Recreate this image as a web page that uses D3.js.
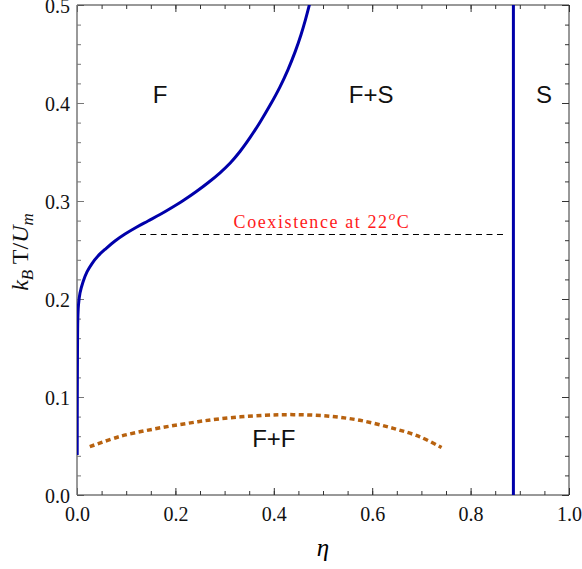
<!DOCTYPE html>
<html>
<head>
<meta charset="utf-8">
<script src="https://cdn.jsdelivr.net/npm/d3@7"></script>
<style>
  body { margin: 0; background: #fff; }
  svg { display: block; }
</style>
</head>
<body>
<script>
// Phase boundary data (eta, kT/Um)
const fluidSolidEta = [0.0004, 0.0006, 0.0010, 0.0016, 0.0030, 0.0061, 0.0122, 0.0203, 0.0305, 0.0427, 0.0589, 0.0772, 0.0976, 0.1199, 0.1443, 0.1687, 0.1931, 0.2175, 0.2419, 0.2663, 0.2907, 0.3110, 0.3313, 0.3516, 0.3720, 0.3923, 0.4126, 0.4289, 0.4431, 0.4553, 0.4644, 0.4715, 0.4776, 0.4817];
const fluidSolidT   = [0.0408, 0.0969, 0.1480, 0.1786, 0.1939, 0.2061, 0.2173, 0.2276, 0.2362, 0.2439, 0.2515, 0.2592, 0.2663, 0.2730, 0.2796, 0.2862, 0.2934, 0.3010, 0.3094, 0.3186, 0.3288, 0.3385, 0.3505, 0.3646, 0.3804, 0.3976, 0.4165, 0.4341, 0.4519, 0.4697, 0.4851, 0.4985, 0.5110, 0.5198];

const fluidFluidEta = [0.026, 0.087, 0.155, 0.223, 0.291, 0.379, 0.440, 0.508, 0.575, 0.643, 0.697, 0.741];
const fluidFluidT   = [0.0493, 0.0597, 0.0672, 0.0730, 0.0778, 0.0813, 0.0820, 0.0806, 0.0762, 0.0680, 0.0594, 0.0484];

const solidEta = 0.887;
const coexistT = 0.2663;
const coexistEta = [0.128, 0.870];

const xTicks = [0, 0.2, 0.4, 0.6, 0.8, 1.0];
const yTicks = [0, 0.1, 0.2, 0.3, 0.4, 0.5];
const xMinor = d3.range(0, 1.0001, 0.05);
const yMinor = d3.range(0, 0.5001, 0.02);

const regionLabels = [
  { text: 'F',   eta: 0.169, t: 0.40 },
  { text: 'F+S', eta: 0.598, t: 0.40 },
  { text: 'S',   eta: 0.949, t: 0.40 },
  { text: 'F+F', eta: 0.400, t: 0.049 }
];

const W = 582, H = 569;
const margin = { top: 5, right: 13, bottom: 74, left: 77 };
const width = W - margin.left - margin.right;
const height = H - margin.top - margin.bottom;

const svg = d3.select('body').append('svg')
  .attr('width', W)
  .attr('height', H);

const g = svg.append('g')
  .attr('transform', `translate(${margin.left},${margin.top})`);

const x = d3.scaleLinear().domain([0, 1]).range([0, width]);
const y = d3.scaleLinear().domain([0, 0.5]).range([height, 0]);

// clip to the frame
svg.append('defs').append('clipPath').attr('id', 'plot')
  .append('rect').attr('width', width).attr('height', height);

const serif = '"Liberation Serif", "Times New Roman", serif';

// axes: ticks pointing inwards, Mathematica frame style
function styleAxis(sel, col) {
  sel.select('.domain').remove();
  sel.selectAll('line').attr('stroke', col).attr('stroke-width', 1);
  sel.selectAll('text').attr('font-family', serif).attr('font-size', 20).attr('fill', '#111');
}

const fmt = d3.format('.1f');

g.append('g').attr('transform', `translate(0,${height})`)
  .call(d3.axisBottom(x).tickValues(xMinor).tickSize(-4).tickFormat(''))
  .call(s => styleAxis(s, '#333'));
g.append('g').attr('transform', `translate(0,${height})`)
  .call(d3.axisBottom(x).tickValues(xTicks).tickSize(-7).tickPadding(20).tickFormat(fmt))
  .call(s => styleAxis(s, '#333'))
  .call(s => s.selectAll('text').attr('dy', '0.3em'));

g.append('g')
  .call(d3.axisTop(x).tickValues(xMinor).tickSize(-4).tickFormat(''))
  .call(s => styleAxis(s, '#333'));
g.append('g')
  .call(d3.axisTop(x).tickValues(xTicks).tickSize(-7).tickFormat(''))
  .call(s => styleAxis(s, '#333'));

g.append('g')
  .call(d3.axisLeft(y).tickValues(yMinor).tickSize(-4).tickFormat(''))
  .call(s => styleAxis(s, '#777'));
g.append('g')
  .call(d3.axisLeft(y).tickValues(yTicks).tickSize(-7).tickPadding(7).tickFormat(fmt))
  .call(s => styleAxis(s, '#777'))
  .call(s => s.selectAll('text').attr('dy', '0.35em'));

g.append('g').attr('transform', `translate(${width},0)`)
  .call(d3.axisRight(y).tickValues(yMinor).tickSize(-4).tickFormat(''))
  .call(s => styleAxis(s, '#333'));
g.append('g').attr('transform', `translate(${width},0)`)
  .call(d3.axisRight(y).tickValues(yTicks).tickSize(-7).tickFormat(''))
  .call(s => styleAxis(s, '#333'));

// frame
g.append('line').attr('x1', 0).attr('x2', width).attr('y1', height).attr('y2', height).attr('stroke', '#333');
g.append('line').attr('x1', 0).attr('x2', width).attr('y1', 0).attr('y2', 0).attr('stroke', '#333');
g.append('line').attr('x1', width).attr('x2', width).attr('y1', 0).attr('y2', height).attr('stroke', '#333');
g.append('line').attr('x1', 0).attr('x2', 0).attr('y1', 0).attr('y2', height).attr('stroke', '#777').attr('stroke-width', 1.5);

const plot = g.append('g').attr('clip-path', 'url(#plot)');

// coexistence line
const cy = Math.round(y(coexistT)) + 0.5;
plot.append('line')
  .attr('x1', x(coexistEta[0])).attr('x2', x(coexistEta[1]))
  .attr('y1', cy).attr('y2', cy)
  .attr('stroke', '#000').attr('stroke-width', 1)
  .attr('stroke-dasharray', '6,4.5');

// fluid-fluid boundary (dotted)
const ffData = fluidFluidEta.map((e, i) => [e, fluidFluidT[i]]);
plot.append('path')
  .datum(ffData)
  .attr('fill', 'none')
  .attr('stroke', '#b8620f')
  .attr('stroke-width', 3.5)
  .attr('stroke-dasharray', '5,3.5')
  .attr('d', d3.line().x(d => x(d[0])).y(d => y(d[1])).curve(d3.curveCatmullRom.alpha(0.5)));

// fluid-solid boundary
const fsData = fluidSolidEta.map((e, i) => [e, fluidSolidT[i]]);
plot.append('path')
  .datum(fsData)
  .attr('fill', 'none')
  .attr('stroke', '#0000aa')
  .attr('stroke-width', 3)
  .attr('d', d3.line().x(d => x(d[0])).y(d => y(d[1])).curve(d3.curveCatmullRom.alpha(0.5)));

// solid boundary
plot.append('line')
  .attr('x1', x(solidEta)).attr('x2', x(solidEta))
  .attr('y1', y(0)).attr('y2', y(0.5))
  .attr('stroke', '#0000aa').attr('stroke-width', 3);

// region labels
g.selectAll('.region')
  .data(regionLabels)
  .enter().append('text')
  .attr('class', 'region')
  .attr('x', d => x(d.eta))
  .attr('y', d => y(d.t))
  .attr('text-anchor', 'middle')
  .attr('font-family', '"Liberation Sans", Arial, sans-serif')
  .attr('font-size', 24)
  .attr('fill', '#111')
  .text(d => d.text);

// coexistence label
const coex = g.append('text')
  .attr('x', x(0.498))
  .attr('y', cy - 7)
  .attr('text-anchor', 'middle')
  .attr('font-family', serif)
  .attr('font-size', 18)
  .attr('letter-spacing', 1.6)
  .attr('fill', '#ff1a1a');
coex.append('tspan').text('Coexistence at 22');
coex.append('tspan').attr('font-style', 'italic').attr('font-size', 13).attr('dy', -8).text('o');
coex.append('tspan').attr('dy', 8).text('C');

// axis titles
svg.append('text')
  .attr('x', margin.left + x(0.5))
  .attr('y', 556)
  .attr('text-anchor', 'middle')
  .attr('font-family', serif)
  .attr('font-style', 'italic')
  .attr('font-size', 25)
  .text('η');

const yl = svg.append('text')
  .attr('transform', 'translate(28,252) rotate(-90)')
  .attr('text-anchor', 'middle')
  .attr('font-family', serif)
  .attr('font-size', 24)
  .attr('fill', '#111');
yl.append('tspan').attr('font-style', 'italic').text('k');
yl.append('tspan').attr('font-style', 'italic').attr('font-size', 17).attr('dy', 5).text('B');
yl.append('tspan').attr('dy', -5).text(' T/');
yl.append('tspan').attr('font-style', 'italic').text('U');
yl.append('tspan').attr('font-style', 'italic').attr('font-size', 17).attr('dy', 5).text('m');
</script>
</body>
</html>
